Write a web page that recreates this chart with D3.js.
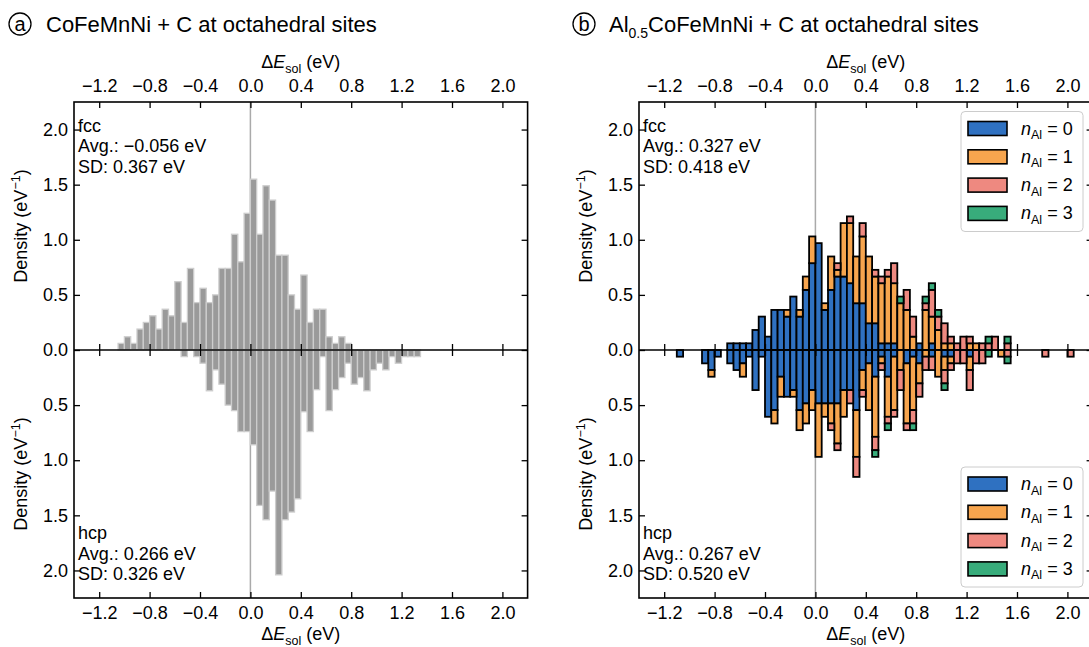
<!DOCTYPE html>
<html>
<head>
<meta charset="utf-8">
<script src="https://cdn.jsdelivr.net/npm/d3@7"></script>
<style>
  body { margin: 0; background: #fff; }
  svg { display: block; font-family: "Liberation Sans", Arial, sans-serif; }
</style>
</head>
<body>
<div id="app"></div>
<script>
const width = 1089,
    height = 647;

// histogram bins: bin k covers [k*binWidth, (k+1)*binWidth]
const binWidth = 0.05;
const xTicks = [-1.2, -0.8, -0.4, 0.0, 0.4, 0.8, 1.2, 1.6, 2.0];
const yTicks = [0, 0.5, 1.0, 1.5, 2.0];

// panel (a) CoFeMnNi: densities per bin
const aFccStart = -21;
const aFcc = [0.06, 0.12, 0.06, 0.19, 0.25, 0.31, 0.19, 0.37, 0.31, 0.62, 0.25, 0.74, 0.43,
    0.56, 0.43, 0.50, 0.74, 0.74, 1.05, 0.80, 1.24, 1.55, 1.05, 1.49, 1.36, 0.86, 0.86,
    0.50, 0.37, 0.68, 0.25, 0.37, 0.37, 0.12, 0.06, 0.12, 0.06];
const aHcpStart = -11;
const aHcp = [0.06, 0, 0.06, 0.12, 0.37, 0.18, 0.31, 0.50, 0.55, 0.74, 0.74, 0.86, 1.41,
    1.54, 1.28, 2.04, 1.54, 1.47, 1.35, 0.56, 0.74, 0.36, 0.06, 0.55, 0.36, 0.25, 0.12,
    0.31, 0.25, 0.37, 0.18, 0.12, 0.18, 0.06, 0.12, 0.06, 0.06, 0.06];

// panel (b) Al0.5CoFeMnNi: counts per bin, split by number of Al neighbours
const densityPerCount = 0.0606;
const nAlLabels = ["0", "1", "2", "3"];
const nAlColors = ["#2f71c1", "#f7a54e", "#ee8980", "#38ac7b"];

const bFccStart = -14;
const bFccN0 = [1, 1, 1, 1, 3, 5, 2, 6, 6, 5, 8, 5, 9, 13, 16, 6, 9, 11, 11, 10, 7, 7, 4, 4,
    1, 1, 1, 0, 0, 0, 1, 0, 1, 0, 0, 0, 0, 0, 0, 0, 0, 0, 0, 0, 0];
const bFccN1 = [0, 0, 0, 0, 0, 0, 0, 0, 0, 1, 0, 1, 2, 4, 0, 1, 5, 1, 8, 9, 7, 10, 10, 7,
    9, 10, 9, 7, 6, 2, 0, 6, 4, 3, 1, 1, 0, 0, 1, 1, 0, 0, 0, 0, 0];
const bFccN2 = [0, 0, 0, 0, 0, 0, 0, 0, 0, 0, 0, 0, 0, 0, 0, 0, 0, 1, 0, 1, 0, 2, 0, 1,
    1, 1, 3, 0, 3, 3, 0, 1, 4, 2, 3, 1, 1, 2, 1, 0, 1, 1, 2, 0, 1];
const bFccN3 = [0, 0, 0, 0, 0, 0, 0, 0, 0, 0, 0, 0, 0, 0, 0, 0, 0, 0, 0, 0, 0, 0, 0, 0,
    0, 0, 0, 1, 0, 0, 0, 1, 1, 1, 0, 0, 0, 0, 0, 0, 0, 1, 0, 0, 1];

const bHcpStart = -22;
const bHcpN0 = [1, 0, 0, 0, 2, 3, 1, 0, 2, 3, 2, 1, 6, 1, 10, 9, 4, 7, 6, 9, 8, 6, 8, 8,
    8, 8, 6, 6, 9, 3, 2, 4, 1, 4, 1, 0, 2, 1, 2, 0, 1, 0, 1, 1, 0, 0, 1, 0, 0, 0,
    0, 0, 0, 0, 0, 0, 0, 0, 0, 0, 0, 0, 0];
const bHcpN1 = [0, 0, 0, 0, 0, 1, 0, 0, 0, 0, 2, 0, 0, 0, 0, 2, 3, 0, 1, 3, 3, 3, 8, 2,
    3, 6, 4, 0, 7, 3, 7, 9, 1, 6, 8, 3, 9, 8, 3, 1, 0, 4, 2, 1, 0, 0, 2, 0, 0, 0,
    0, 1, 0, 0, 0, 0, 0, 0, 0, 0, 0, 0, 0];
const bHcpN2 = [0, 0, 0, 0, 0, 0, 0, 0, 0, 0, 0, 0, 0, 0, 0, 0, 0, 0, 0, 0, 0, 0, 0, 0,
    1, 1, 0, 2, 3, 1, 0, 2, 1, 1, 1, 3, 1, 2, 2, 2, 2, 0, 2, 1, 2, 2, 3, 2, 2, 0,
    0, 0, 1, 0, 0, 0, 0, 0, 1, 0, 0, 0, 1];
const bHcpN3 = [0, 0, 0, 0, 0, 0, 0, 0, 0, 0, 0, 0, 0, 0, 0, 0, 0, 0, 0, 0, 0, 0, 0, 0,
    0, 0, 0, 0, 0, 0, 0, 1, 0, 1, 0, 0, 0, 1, 0, 0, 0, 0, 1, 0, 0, 0, 0, 0, 0, 1,
    0, 0, 1, 0, 0, 0, 0, 0, 0, 0, 0, 0, 0];

const panels = [
    {letter: "a", left: 74, circleX: 20, textX: 46, title: [["CoFeMnNi + C at octahedral sites", 0]],
     fcc: ["fcc", "Avg.: \u22120.056 eV", "SD: 0.367 eV"],
     hcp: ["hcp", "Avg.: 0.266 eV", "SD: 0.326 eV"]},
    {letter: "b", left: 639, circleX: 584, textX: 609, title: [["Al", 0], ["0.5", 1], ["CoFeMnNi + C at octahedral sites", 0]],
     fcc: ["fcc", "Avg.: 0.327 eV", "SD: 0.418 eV"],
     hcp: ["hcp", "Avg.: 0.267 eV", "SD: 0.520 eV"]}
];

const plotTop = 102, plotMid = 350, plotBottom = 598;
const plotWidth = 453.6;
const fs = 18;

const svg = d3.select("#app")
    .append("svg")
    .attr("width", width)
    .attr("height", height);

function cleanAxis(g, labels) {
    g.attr("font-family", null).attr("font-size", fs);
    g.select(".domain").remove();
    g.selectAll(".tick line").attr("stroke", "#000").attr("stroke-width", 1.3);
    g.selectAll(".tick text").attr("fill", "#000");
    if (!labels) g.selectAll(".tick text").remove();
}

function stackRows(start, series) {
    return series[0].map((_, i) => {
        const row = {bin: start + i};
        series.forEach((s, j) => row["n" + j] = s[i]);
        return row;
    });
}

function drawLegend(g, boxTop) {
    const boxLeft = 961, boxW = 122, boxH = 120;
    const lg = g.append("g");
    lg.append("rect")
        .attr("x", boxLeft).attr("y", boxTop)
        .attr("width", boxW).attr("height", boxH)
        .attr("rx", 4)
        .attr("fill", "#fff").attr("fill-opacity", 0.85)
        .attr("stroke", "#cccccc").attr("stroke-width", 1);
    nAlLabels.forEach((lab, i) => {
        const cy = boxTop + 17 + i * 28.3;
        lg.append("rect")
            .attr("x", boxLeft + 7).attr("y", cy - 7)
            .attr("width", 39).attr("height", 14)
            .attr("fill", nAlColors[i]).attr("stroke", "#000").attr("stroke-width", 1.6);
        const t = lg.append("text")
            .attr("x", boxLeft + 60).attr("y", cy + 6)
            .attr("font-size", fs);
        t.append("tspan").attr("font-style", "italic").text("n");
        t.append("tspan").attr("font-size", 12.5).attr("dy", 4.5).text("Al");
        t.append("tspan").attr("dy", -4.5).text(" = " + lab);
    });
}

panels.forEach((p, pi) => {
    const g = svg.append("g");
    const x = d3.scaleLinear().domain([-1.4, 2.2]).range([p.left, p.left + plotWidth]);
    const yUp = d3.scaleLinear().domain([0, 2.25]).range([plotMid, plotTop]);
    const yDown = d3.scaleLinear().domain([0, 2.25]).range([plotMid, plotBottom]);
    const right = p.left + plotWidth;

    // zero reference line
    g.append("line")
        .attr("x1", x(0)).attr("x2", x(0))
        .attr("y1", plotTop).attr("y2", plotBottom)
        .attr("stroke", "#aaaaaa").attr("stroke-width", 1.5);

    if (pi === 0) {
        const draw = (vals, start, y) => g.append("g").selectAll("rect")
            .data(vals.map((v, i) => ({bin: start + i, v})).filter(d => d.v > 0))
            .enter().append("rect")
            .attr("x", d => x(d.bin * binWidth))
            .attr("width", d => x((d.bin + 1) * binWidth) - x(d.bin * binWidth))
            .attr("y", d => Math.min(y(d.v), y(0)))
            .attr("height", d => Math.abs(y(d.v) - y(0)))
            .attr("fill", "#9a9a9a")
            .attr("stroke", "#cdcdcd")
            .attr("stroke-width", 1.3);
        draw(aFcc, aFccStart, yUp);
        draw(aHcp, aHcpStart, yDown);
    } else {
        const stack = d3.stack().keys(["n0", "n1", "n2", "n3"]);
        const draw = (rows, y) => {
            const layers = stack(rows);
            g.append("g").selectAll("g")
                .data(layers).enter().append("g")
                .attr("fill", (_, i) => nAlColors[i])
                .selectAll("rect")
                .data(d => d.filter(s => s[1] > s[0]))
                .enter().append("rect")
                .attr("x", d => x(d.data.bin * binWidth))
                .attr("width", d => x((d.data.bin + 1) * binWidth) - x(d.data.bin * binWidth))
                .attr("y", d => Math.min(y(d[0] * densityPerCount), y(d[1] * densityPerCount)))
                .attr("height", d => Math.abs(y(d[1] * densityPerCount) - y(d[0] * densityPerCount)))
                .attr("stroke", "#000")
                .attr("stroke-width", 1.8);
        };
        draw(stackRows(bFccStart, [bFccN0, bFccN1, bFccN2, bFccN3]), yUp);
        draw(stackRows(bHcpStart, [bHcpN0, bHcpN1, bHcpN2, bHcpN3]), yDown);
        drawLegend(g, 111.5);
        drawLegend(g, 467);
    }

    // frame and middle line
    g.append("rect")
        .attr("x", p.left).attr("y", plotTop)
        .attr("width", plotWidth).attr("height", plotBottom - plotTop)
        .attr("fill", "none").attr("stroke", "#000").attr("stroke-width", 1.6);
    g.append("line")
        .attr("x1", p.left).attr("x2", right)
        .attr("y1", plotMid).attr("y2", plotMid)
        .attr("stroke", "#000").attr("stroke-width", 1.6);

    const fmt = d3.format(".1f");
    g.append("g").attr("transform", `translate(0,${plotTop})`)
        .call(d3.axisTop(x).tickValues(xTicks).tickFormat(fmt).tickSizeInner(-6).tickSizeOuter(0).tickPadding(10))
        .call(a => cleanAxis(a, true));
    g.append("g").attr("transform", `translate(0,${plotBottom})`)
        .call(d3.axisBottom(x).tickValues(xTicks).tickFormat(fmt).tickSizeInner(-6).tickSizeOuter(0).tickPadding(8))
        .call(a => cleanAxis(a, true));
    g.append("g").attr("transform", `translate(0,${plotMid})`)
        .call(d3.axisBottom(x).tickValues(xTicks).tickSizeInner(-6).tickSizeOuter(0))
        .call(a => cleanAxis(a, false));
    g.append("g").attr("transform", `translate(0,${plotMid})`)
        .call(d3.axisTop(x).tickValues(xTicks).tickSizeInner(-6).tickSizeOuter(0))
        .call(a => cleanAxis(a, false));
    g.append("g").attr("transform", `translate(${p.left},0)`)
        .call(d3.axisLeft(yUp).tickValues(yTicks).tickFormat(fmt).tickSizeInner(-6).tickSizeOuter(0).tickPadding(6))
        .call(a => cleanAxis(a, true));
    g.append("g").attr("transform", `translate(${p.left},0)`)
        .call(d3.axisLeft(yDown).tickValues(yTicks.slice(1)).tickFormat(fmt).tickSizeInner(-6).tickSizeOuter(0).tickPadding(6))
        .call(a => cleanAxis(a, true));
    g.append("g").attr("transform", `translate(${right},0)`)
        .call(d3.axisRight(yUp).tickValues(yTicks).tickSizeInner(-6).tickSizeOuter(0))
        .call(a => cleanAxis(a, false));
    g.append("g").attr("transform", `translate(${right},0)`)
        .call(d3.axisRight(yDown).tickValues(yTicks.slice(1)).tickSizeInner(-6).tickSizeOuter(0))
        .call(a => cleanAxis(a, false));

    // axis titles
    const xLabel = (yPos) => {
        const t = g.append("text")
            .attr("x", (p.left + right) / 2).attr("y", yPos)
            .attr("text-anchor", "middle").attr("font-size", fs);
        t.append("tspan").text("\u0394");
        t.append("tspan").attr("font-style", "italic").text("E");
        t.append("tspan").attr("font-size", 12.5).attr("dy", 4.5).text("sol");
        t.append("tspan").attr("dy", -4.5).text(" (eV)");
    };
    xLabel(68);
    xLabel(640);

    [(plotTop + plotMid) / 2, (plotMid + plotBottom) / 2].forEach(cy => {
        const t = g.append("text")
            .attr("transform", `translate(${p.left - 47},${cy}) rotate(-90)`)
            .attr("text-anchor", "middle").attr("font-size", fs);
        t.append("tspan").text("Density (eV");
        t.append("tspan").attr("font-size", 12.5).attr("dy", -7).text("\u22121");
        t.append("tspan").attr("dy", 7).text(")");
    });

    // stats annotations
    p.fcc.forEach((s, i) => g.append("text")
        .attr("x", p.left + 4).attr("y", 131.5 + i * 20.5)
        .attr("font-size", fs).text(s));
    p.hcp.forEach((s, i) => g.append("text")
        .attr("x", p.left + 4).attr("y", 539 + i * 20.5)
        .attr("font-size", fs).text(s));

    // panel title with circled letter
    g.append("circle")
        .attr("cx", p.circleX).attr("cy", 24).attr("r", 11)
        .attr("fill", "none").attr("stroke", "#000").attr("stroke-width", 1.3);
    g.append("text")
        .attr("x", p.circleX).attr("y", 31)
        .attr("text-anchor", "middle").attr("font-size", 20).text(p.letter);
    const tt = g.append("text")
        .attr("x", p.textX).attr("y", 32)
        .attr("font-size", 22);
    let shifted = 0;
    p.title.forEach(([s, sub]) => {
        const span = tt.append("tspan").text(s);
        if (sub) { span.attr("font-size", 14).attr("dy", 6); shifted = 6; }
        else if (shifted) { span.attr("dy", -shifted); shifted = 0; }
    });
});
</script>
</body>
</html>
